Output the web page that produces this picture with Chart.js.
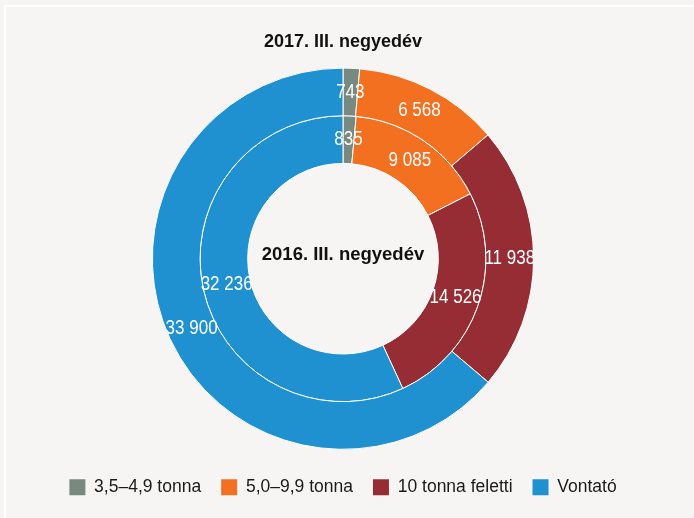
<!DOCTYPE html>
<html>
<head>
<meta charset="utf-8">
<script src="https://cdn.jsdelivr.net/npm/chart.js@4/dist/chart.umd.min.js"></script>
<style>
  html, body { margin: 0; padding: 0; background: #f6f5f3; }
  #wrap { position: relative; width: 694px; height: 518px; }
  #frame { position: absolute; left: 4px; top: 5px; right: 0; bottom: 0;
           border-left: 2px solid #fff; border-top: 2px solid #fff; }
  canvas { position: absolute; left: 0; top: 0; }
</style>
</head>
<body>
<div id="wrap">
  <div id="frame"></div>
  <canvas id="truckChart" width="694" height="518"></canvas>
</div>
<script>
'use strict';

const CATEGORIES = ['3,5–4,9 tonna', '5,0–9,9 tonna', '10 tonna feletti', 'Vontató'];
const VALUES_2017 = [743, 6568, 11938, 33900];
const VALUES_2016 = [835, 9085, 14526, 32236];
const COLORS = ['#788a80', '#f37021', '#962d34', '#1f91d0'];
const OUTER_TITLE = '2017. III. negyedév';
const INNER_TITLE = '2016. III. negyedév';

const FONT = "'Liberation Sans', Arial, sans-serif";

const fmt = v => String(v).replace(/\B(?=(\d{3})+(?!\d))/g, ' ');

// slice numbers (narrow look) + center caption
const labelPlugin = {
  id: 'sliceLabels',
  afterDatasetsDraw(chart) {
    const ctx = chart.ctx;
    ctx.save();
    ctx.fillStyle = '#fff';
    ctx.font = '20px ' + FONT;
    ctx.textAlign = 'center';
    ctx.textBaseline = 'middle';
    chart.data.datasets.forEach((ds, di) => {
      const meta = chart.getDatasetMeta(di);
      meta.data.forEach((arc, i) => {
        const p = arc.tooltipPosition();
        ctx.save();
        ctx.translate(p.x, p.y);
        ctx.scale(0.85, 1);
        ctx.fillText(fmt(ds.data[i]), 0, 0);
        ctx.restore();
      });
    });
    const a = chart.getDatasetMeta(0).data[0];
    ctx.fillStyle = '#111';
    ctx.font = 'bold 18.5px ' + FONT;
    ctx.fillText(INNER_TITLE, a.x, a.y - 4);
    ctx.restore();
  }
};

const c1 = document.getElementById('truckChart');
new Chart(c1.getContext('2d'), {
  type: 'doughnut',
  data: {
    labels: CATEGORIES,
    datasets: [
      { label: '2017', data: VALUES_2017, backgroundColor: COLORS, borderColor: '#fff', borderWidth: 1, hoverOffset: 0 },
      { label: '2016', data: VALUES_2016, backgroundColor: COLORS, borderColor: '#fff', borderWidth: 1, hoverOffset: 0 },
    ],
  },
  options: {
    responsive: false,
    animation: false,
    cutout: '50%',
    layout: { padding: { left: 0, right: 8, top: 0, bottom: 12 } },
    plugins: {
      tooltip: { enabled: false },
      title: {
        display: true,
        text: OUTER_TITLE,
        color: '#111',
        font: { family: FONT, size: 18, weight: 'bold' },
        padding: { top: 31, bottom: 15 },
      },
      legend: {
        position: 'bottom',
        title: { display: true, text: ' ', font: { size: 1 }, padding: { top: 4, bottom: 3.5 } },
        labels: {
          color: '#1a1a1a',
          boxWidth: 16,
          boxHeight: 16,
          padding: 20,
          font: { family: FONT, size: 17.5 },
          generateLabels: chart => CATEGORIES.map((text, i) => ({
            text,
            fillStyle: COLORS[i],
            strokeStyle: COLORS[i],
            fontColor: '#1a1a1a',
            lineWidth: 0,
            index: i,
          })),
        },
      },
    },
  },
  plugins: [labelPlugin],
});
</script>
</body>
</html>
